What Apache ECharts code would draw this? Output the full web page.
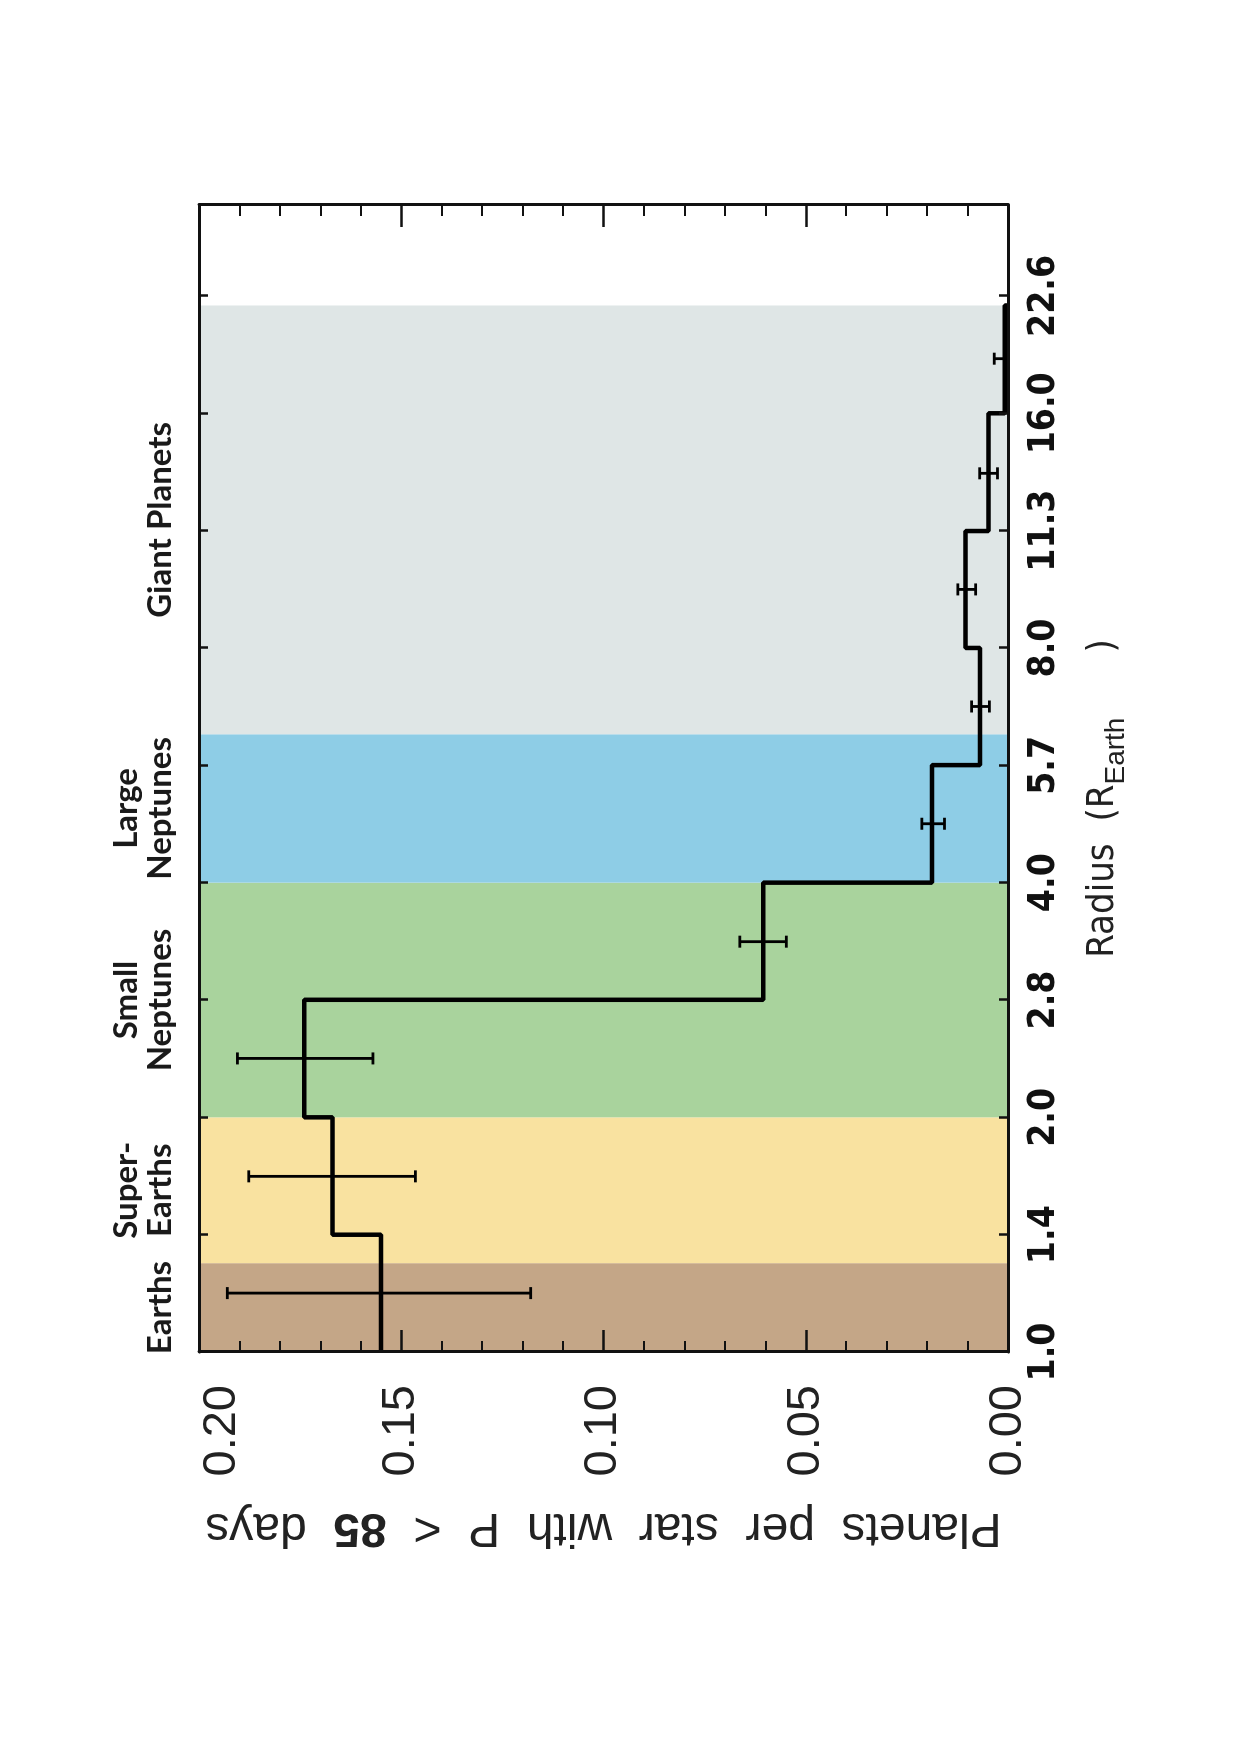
<!DOCTYPE html>
<html>
<head>
<meta charset="utf-8">
<script src="https://cdn.jsdelivr.net/npm/echarts@6/dist/echarts.min.js"></script>
<style>
  html, body { margin: 0; padding: 0; width: 1241px; height: 1754px; overflow: hidden; background: #fff; }
  /* the figure is drawn upright, then turned a quarter turn counter-clockwise like the original scan */
  #chart { position: absolute; left: 0; top: 0; width: 1754px; height: 1241px;
           transform-origin: 0 0; transform: translate(0px, 1754px) rotate(-90deg); }
</style>
</head>
<body>
<div id="chart"></div>
<script>
// histogram bins (planet radius, Earth radii) and occurrence per star
const binEdges = [1.0, 1.414, 2.0, 2.83, 4.0, 5.66, 8.0, 11.3, 16.0, 22.0];
const binCenters = [1.19, 1.68, 2.38, 3.36, 4.76, 6.73, 9.51, 13.4, 18.8];
const planetsPerStar = [0.155, 0.167, 0.174, 0.0605, 0.0188, 0.0069, 0.0105, 0.0048, 0.0008];
const errLow = [0.118, 0.1465, 0.157, 0.0548, 0.0157, 0.0046, 0.0080, 0.0026, 0.0];
const errHigh = [0.193, 0.1877, 0.1905, 0.0663, 0.0213, 0.0090, 0.0124, 0.0070, 0.0034];

// planet classes shaded behind the histogram
const classNames = ['Earths', 'Super-\nEarths', 'Small\nNeptunes', 'Large\nNeptunes', 'Giant Planets'];
const classEdges = [1.0, 1.3, 2.0, 4.0, 6.2, 22.0];
const classColors = ['#c4a687', '#f9e2a0', '#a9d39d', '#8ecde6', '#dfe6e6'];

const chart = echarts.init(document.getElementById('chart'));

const ink = '#111';
const narrow = "'Liberation Sans Narrow', 'DejaVu Sans Condensed', 'Roboto', sans-serif";

// step line: hold each bin value to its right edge, then drop to zero
const stepData = binEdges.map((e, i) => [e, planetsPerStar[Math.min(i, planetsPerStar.length - 1)]]);
stepData.push([binEdges[binEdges.length - 1], 0]);

const areas = classNames.map((n, i) => [
  { name: n, xAxis: classEdges[i], itemStyle: { color: classColors[i] } },
  { xAxis: classEdges[i + 1] }
]);

const radiusAxis = {
  type: 'log',
  logBase: Math.SQRT2,
  min: 1.0,
  max: 29.6,
  splitNumber: 10,
  z: 10,
  axisLine: { show: true, onZero: false, lineStyle: { color: ink, width: 3 } },
  axisTick: { show: true, inside: true, length: 9, lineStyle: { color: ink, width: 2.5 } },
  splitLine: { show: false }
};

const valueAxis = {
  type: 'value',
  min: 0,
  max: 0.2,
  interval: 0.05,
  z: 10,
  axisLine: { show: true, onZero: false, lineStyle: { color: ink, width: 3 } },
  axisTick: { show: true, inside: true, length: 22, lineStyle: { color: ink, width: 2.5 } },
  minorTick: { show: true, splitNumber: 5, length: 11, lineStyle: { color: ink, width: 2 } },
  splitLine: { show: false },
  minorSplitLine: { show: false }
};

const option = {
  animation: false,
  backgroundColor: '#fff',
  grid: { left: 402, right: 205, top: 199, bottom: 233, outerBoundsMode: 'none' },
  xAxis: [
    Object.assign({}, radiusAxis, {
      position: 'bottom',
      axisLabel: {
        show: true, margin: 18, showMaxLabel: false,
        color: ink, fontFamily: narrow, fontWeight: 'bold', fontSize: 37,
        formatter: v => v.toFixed(1)
      },
      name: '{a|Radius}{a|  (R}{b|Earth}{a|      )}',
      nameLocation: 'middle',
      nameGap: 74,
      nameTextStyle: {
        padding: [0, 40, 0, 0],
        rich: {
          a: { fontSize: 38, lineHeight: 42, fontFamily: narrow, color: '#222', verticalAlign: 'middle' },
          b: { fontSize: 28, lineHeight: 28, fontFamily: "'Liberation Sans', sans-serif", color: '#222',
               padding: [26, 0, 0, 0], verticalAlign: 'middle' }
        }
      }
    }),
    Object.assign({}, radiusAxis, { position: 'top', axisLabel: { show: false } })
  ],
  yAxis: [
    Object.assign({}, valueAxis, {
      position: 'left',
      axisLabel: {
        show: true, margin: 33, color: '#222',
        fontFamily: "'Liberation Sans', sans-serif", fontSize: 47,
        verticalAlignMaxLabel: 'top',
        formatter: v => v.toFixed(2)
      },
      name: '{a|Planets  per  star  with  P  <  }{b|85}{a|  days}',
      nameLocation: 'middle',
      nameGap: 151,
      nameTextStyle: {
        rich: {
          a: { fontSize: 48, fontFamily: "'Liberation Sans', sans-serif", color: '#222' },
          b: { fontSize: 48, fontFamily: "'Liberation Sans', sans-serif", fontWeight: 'bold', color: '#222' }
        }
      }
    }),
    Object.assign({}, valueAxis, { position: 'right', axisLabel: { show: false } })
  ],
  series: [
    {
      // carries the coloured class bands and their titles
      type: 'line',
      data: [],
      z: 1,
      markArea: {
        silent: true,
        label: {
          show: true, position: 'top', distance: 22,
          color: '#1a1a1a', fontFamily: 'Lato, sans-serif', fontWeight: 'bold',
          fontSize: 33, lineHeight: 34, align: 'center'
        },
        data: areas
      }
    },
    {
      type: 'line',
      step: 'end',
      z: 3,
      showSymbol: false,
      data: stepData,
      lineStyle: { color: '#000', width: 4.5 }
    },
    {
      type: 'custom',
      z: 4,
      encode: { x: 0, y: [1, 2] },
      data: binCenters.map((c, i) => [c, errLow[i], errHigh[i]]),
      renderItem: function (params, api) {
        const lo = api.coord([api.value(0), api.value(1)]);
        const hi = api.coord([api.value(0), api.value(2)]);
        const cap = 6;
        const st = { stroke: '#000', lineWidth: 2.8 };
        return {
          type: 'group',
          children: [
            { type: 'line', shape: { x1: lo[0], y1: lo[1], x2: hi[0], y2: hi[1] }, style: st },
            { type: 'line', shape: { x1: lo[0] - cap, y1: lo[1], x2: lo[0] + cap, y2: lo[1] }, style: st },
            { type: 'line', shape: { x1: hi[0] - cap, y1: hi[1], x2: hi[0] + cap, y2: hi[1] }, style: st }
          ]
        };
      }
    }
  ]
};

chart.setOption(option);
</script>
</body>
</html>
